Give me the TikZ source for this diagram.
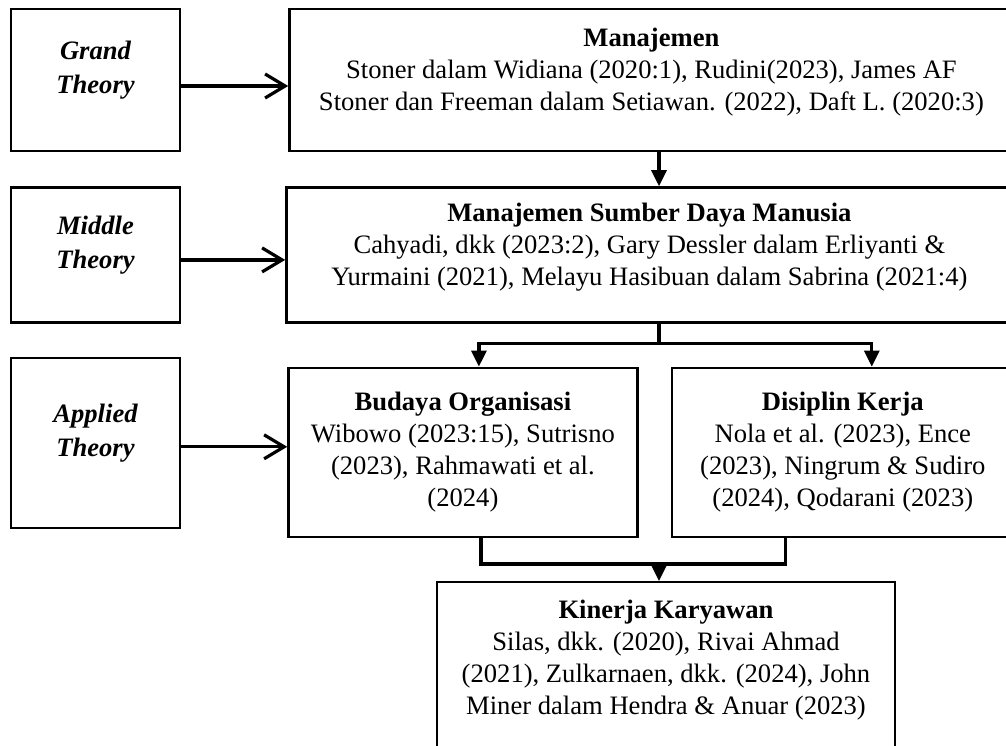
\documentclass[tikz,border=0pt]{standalone}
\usepackage{fontspec}
\setmainfont{Liberation Serif}
\usetikzlibrary{arrows.meta,positioning}

\begin{document}
\begin{tikzpicture}[x=1pt, y=1pt, font=\fontsize{13.3}{16}\selectfont,
  box/.style={draw, line width=1.2pt, align=center, inner sep=0pt},
  theory/.style={box, font=\fontsize{13.3}{17}\selectfont\bfseries\itshape,
    minimum width=84.5pt, text depth=13pt},
  head/.style={box, minimum width=362pt, text depth=11pt},
  link/.style={line width=1.6pt},
  feed/.style={link, -{Straight Barb[length=10pt, width=12pt]}},
  down/.style={link, -{Triangle[length=8pt, width=7.5pt]}}]
  \path[use as bounding box, clip] (0,0) rectangle (503,-372.5);

  % left column
  \node[theory, minimum height=71pt] (grand) at (47.75,-40) {Grand\\Theory};
  \node[theory, minimum height=67.5pt, below=17pt of grand] (middle) {Middle\\Theory};
  \node[theory, minimum height=85pt, below=16.5pt of middle] (applied) {Applied\\Theory};

  % right column
  \node[head, minimum height=71pt, right=53.5pt of grand] (manaj)
    {\textbf{Manajemen}\\Stoner dalam Widiana (2020:1), Rudini(2023), James AF\\Stoner dan Freeman dalam Setiawan. (2022), Daft L. (2020:3)};
  \node[head, minimum width=363pt, minimum height=67.5pt, right=52pt of middle] (msdm)
    {\textbf{Manajemen Sumber Daya Manusia}\\Cahyadi, dkk (2023:2), Gary Dessler dalam Erliyanti \&\\Yurmaini (2021), Melayu Hasibuan dalam Sabrina (2021:4)};
  \node[box, minimum width=174.5pt, minimum height=84.5pt,
    below=21.5pt of msdm.south west, anchor=north west, xshift=1pt] (budaya)
    {\textbf{Budaya Organisasi}\\Wibowo (2023:15), Sutrisno\\(2023), Rahmawati et al.\\(2024)};
  \node[box, minimum width=171pt, minimum height=84.5pt, right=16pt of budaya] (disiplin)
    {\textbf{Disiplin Kerja}\\Nola et al. (2023), Ence\\(2023), Ningrum \& Sudiro\\(2024), Qodarani (2023)};
  \node[box, minimum width=229pt, minimum height=86pt, text depth=11pt, anchor=north] (kinerja) at (333,-290.5)
    {\textbf{Kinerja Karyawan}\\Silas, dkk. (2020), Rivai Ahmad\\(2021), Zulkarnaen, dkk. (2024), John\\Miner dalam Hendra \& Anuar (2023)};

  \coordinate (spine) at (329.5,0);

  % theory arrows
  \draw[feed] ([yshift=-3pt]grand.east) -- ([yshift=-3pt]grand.east -| manaj.west);
  \draw[feed] ([yshift=-2.5pt]middle.east) -- ([yshift=-2.5pt]middle.east -| msdm.west);
  \draw[feed] ([yshift=-2pt]applied.east) -- ([yshift=-2pt]applied.east -| budaya.west);

  % flow
  \draw[down] (spine |- manaj.south) -- (spine |- msdm.north);
  \draw[link] (spine |- msdm.south) -- ++(0,-10) coordinate (fork);
  \draw[down] (fork) -| ([xshift=8pt]budaya.north);
  \draw[down] (fork) -| ([xshift=14.5pt]disiplin.north);
  \draw[link] ([xshift=9pt]budaya.south) -- ++(0,-13) coordinate (merge)
    -| ([xshift=-28.5pt]disiplin.south);
  \draw[down] (merge -| spine) -- (kinerja.north -| spine);
\end{tikzpicture}
\end{document}
